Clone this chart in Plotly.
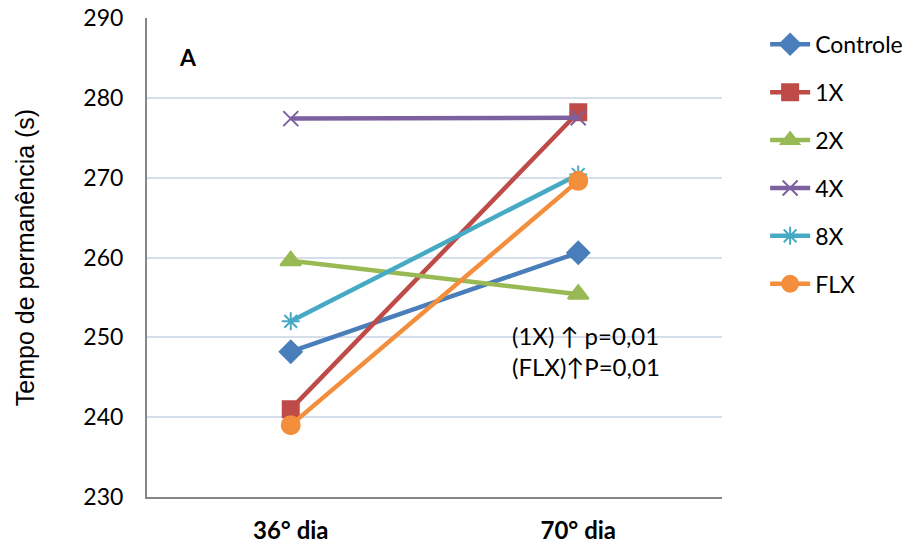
import plotly.graph_objects as go

categories = ["36° dia", "70° dia"]
series_names = ["Controle", "1X", "2X", "4X", "8X", "FLX"]
controle = [248.2, 260.6]
x1 = [241.0, 278.2]
x2 = [259.6, 255.4]
x4 = [277.4, 277.5]
x8 = [252.0, 270.4]
flx = [239.0, 269.6]
y_ticks = [230, 240, 250, 260, 270, 280, 290]

values = [controle, x1, x2, x4, x8, flx]
colors = ["#4A7EBB", "#BE4B48", "#98B954", "#7D60A0", "#46AAC5", "#F28E3C"]
symbols = ["diamond", "square", "triangle-up", "x-thin-open", "asterisk-open", "circle"]
sizes = [17, 16, 18, 15, 15, 18]

FONT = "Lato, 'Open Sans', sans-serif"
TITLE_FONT = "'Liberation Sans', Arial, sans-serif"

fig = go.Figure()
for i, (name, vals) in enumerate(zip(series_names, values)):
    fig.add_trace(go.Scatter(
        x=categories, y=vals, name=name, mode="lines+markers",
        line=dict(color=colors[i], width=4.5),
        marker=dict(symbol=symbols[i], size=sizes[i], color=colors[i],
                    line=dict(color=colors[i], width=2)),
        legendgroup=name,
    ))

fig.update_layout(
    width=915, height=546,
    margin=dict(l=147, r=193, t=18, b=49, autoexpand=False),
    paper_bgcolor="white", plot_bgcolor="white",
    font=dict(family=FONT, size=23, color="black"),
    showlegend=True,
    legend=dict(x=1.075, y=0.99, xanchor="left", yanchor="top",
                font=dict(size=23, family=FONT), tracegroupgap=15,
                itemwidth=40, bgcolor="rgba(0,0,0,0)"),
    xaxis=dict(type="category", range=[-0.5, 1.5], showgrid=False,
               showline=True, linecolor="#868686", linewidth=2,
               ticks="", tickfont=dict(size=24, family=FONT, color="black"),
               ticklabelstandoff=11, automargin=False,
               tickvals=categories,
               ticktext=["<b>36° dia</b>", "<b>70° dia</b>"]),
    yaxis=dict(range=[230, 290], tickvals=y_ticks, showgrid=True,
               gridcolor="#D5DEEA", gridwidth=1.5,
               showline=True, linecolor="#868686", linewidth=2,
               ticks="", tickfont=dict(size=23, family=FONT, color="black"),
               ticklabelstandoff=17, automargin=False,
               title=dict(text="Tempo de permanência (s)",
                          font=dict(size=25, family=TITLE_FONT), standoff=42),
               zeroline=False),
    annotations=[
        dict(x=0.071, y=0.919, xref="paper", yref="paper", text="<b>A</b>",
             showarrow=False, font=dict(size=23, family=FONT), xanchor="center", yanchor="middle"),
        dict(x=0.631, y=0.305, xref="paper", yref="paper",
             text="(1X) ↑ p=0,01<br>(FLX)↑P=0,01", align="left",
             showarrow=False, font=dict(size=24, family=FONT), xanchor="left", yanchor="middle"),
    ],
)

fig.write_html("out.html", config={"displayModeBar": False},
               post_script="document.body.style.margin='0';")
